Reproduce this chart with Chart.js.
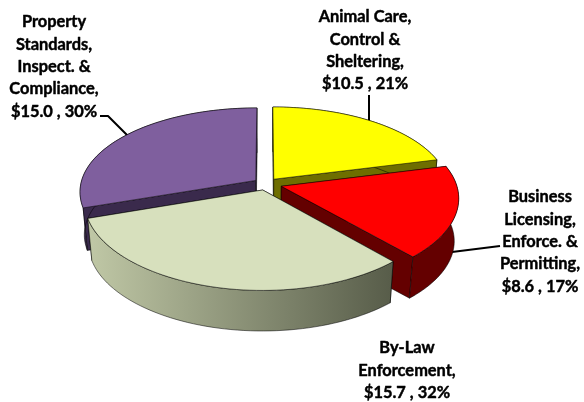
<!DOCTYPE html>
<html>
<head>
<meta charset="utf-8">
<style>
  html, body { margin: 0; padding: 0; background: #fff; }
  canvas { display: block; }
</style>
<script src="https://cdn.jsdelivr.net/npm/chart.js@4/dist/chart.umd.min.js"></script>
</head>
<body>
<canvas id="chart" width="584" height="402"></canvas>
<script>
// Budget split by service area, $ millions
const categories = [
  ["Animal Care,", "Control &", "Sheltering,"],
  ["Business", "Licensing,", "Enforce. &", "Permitting,"],
  ["By-Law", "Enforcement,"],
  ["Property", "Standards,", "Inspect. &", "Compliance,"]
];
const amounts = [10.5, 8.6, 15.7, 15.0];
const shares = [21, 17, 32, 30];

// Slice styling, in data order
const topColors = ["#ffff00", "#ff0000", "#d7e0bd", "#7f5f9e"];
const wallColors = ["#6e6e00", "#640000", "#5f6450", "#3a2a4c"];
const explode = [14, 17.5, 14, 14];

// Projection of the flat pie onto a tilted plane with mild perspective
const view = { cx: 266, cy: 184, rx: 175, ry: 84, perspX: 0.13, perspY: 0.145, depth: 43, shrink: 0.977 };

// Label block anchors (centre x, first line y) and leader polylines
const labelLayout = [
  { x: 365, y: 17, leader: [[369, 95], [369, 122]] },
  { x: 540, y: 197, leader: [[500, 246], [452, 252]] },
  { x: 407, y: 348, leader: null },
  { x: 54, y: 22, leader: [[100, 116], [108, 116], [128, 136]] }
];
const lineGap = 22.4;

function project(u, v, lower) {
  let x = view.rx * u / (1 - view.perspX * v);
  let y = view.ry * v / (1 - view.perspY * v);
  if (lower) {
    x *= view.shrink;
    y = y * view.shrink + view.depth;
  }
  return [view.cx + x, view.cy + y];
}

function tracePath(ctx, pts) {
  ctx.beginPath();
  pts.forEach((p, i) => (i ? ctx.lineTo(p[0], p[1]) : ctx.moveTo(p[0], p[1])));
  ctx.closePath();
}

function paintPoly(ctx, pts, fill) {
  tracePath(ctx, pts);
  ctx.fillStyle = fill;
  ctx.fill();
  ctx.lineWidth = 0.8;
  ctx.strokeStyle = "rgba(0,0,0,0.65)";
  ctx.stroke();
}

// Extruded slice built from the arc geometry the pie controller computed
function drawSlice(ctx, arc, index) {
  const { startAngle, endAngle, outerRadius } = arc;
  const off = arc.options.offset / outerRadius;
  const mid = (startAngle + endAngle) / 2;
  const u0 = off * Math.cos(mid), v0 = off * Math.sin(mid);
  const steps = 60;
  const rim = [];
  for (let i = 0; i <= steps; i++) {
    const a = startAngle + (endAngle - startAngle) * i / steps;
    rim.push([u0 + Math.cos(a), v0 + Math.sin(a)]);
  }
  const topRim = rim.map(p => project(p[0], p[1], false));
  const lowRim = rim.map(p => project(p[0], p[1], true));
  const apexTop = project(u0, v0, false);
  const apexLow = project(u0, v0, true);

  paintPoly(ctx, [apexTop, topRim[0], lowRim[0], apexLow], wallColors[index]);
  paintPoly(ctx, [apexTop, topRim[steps], lowRim[steps], apexLow], wallColors[index]);

  let rimFill = wallColors[index];
  if (index === 2) {
    rimFill = ctx.createLinearGradient(topRim[steps][0], 0, topRim[0][0], 0);
    rimFill.addColorStop(0, "#c0c8a6");
    rimFill.addColorStop(1, "#575c49");
  }
  paintPoly(ctx, topRim.concat(lowRim.slice().reverse()), rimFill);
  paintPoly(ctx, [apexTop].concat(topRim), topColors[index]);
}

const pie3d = {
  id: "pie3d",
  beforeDatasetsDraw(chart) {
    const ctx = chart.ctx;
    const arcs = chart.getDatasetMeta(0).data;
    ctx.save();
    ctx.lineJoin = "round";
    ctx.strokeStyle = "#000";
    ctx.lineWidth = 2;
    labelLayout.forEach(l => {
      if (!l.leader) return;
      ctx.beginPath();
      l.leader.forEach((p, i) => (i ? ctx.lineTo(p[0], p[1]) : ctx.moveTo(p[0], p[1])));
      ctx.stroke();
    });
    // Back slices first so nearer ones cover their walls
    [3, 0, 1, 2].forEach(i => drawSlice(ctx, arcs[i], i));
    ctx.restore();
    return false;
  },
  afterDraw(chart) {
    const ctx = chart.ctx;
    ctx.save();
    ctx.font = "bold 16.4px Lato, 'Open Sans', sans-serif";
    ctx.fillStyle = "#000";
    ctx.strokeStyle = "#000";
    ctx.lineWidth = 0.45;
    ctx.lineJoin = "round";
    ctx.textAlign = "center";
    ctx.textBaseline = "middle";
    categories.forEach((lines, i) => {
      const all = lines.concat("$" + amounts[i].toFixed(1) + " , " + shares[i] + "%");
      all.forEach((t, j) => {
        const y = labelLayout[i].y + j * lineGap;
        ctx.fillText(t, labelLayout[i].x, y);
        ctx.strokeText(t, labelLayout[i].x, y);
      });
    });
    ctx.restore();
  }
};

new Chart(document.getElementById("chart"), {
  type: "pie",
  data: {
    labels: categories.map(c => c.join(" ")),
    datasets: [{ data: amounts, backgroundColor: topColors, offset: explode, borderWidth: 0 }]
  },
  options: {
    responsive: false,
    animation: false,
    plugins: { legend: { display: false }, tooltip: { enabled: false } }
  },
  plugins: [pie3d]
});
</script>
</body>
</html>
